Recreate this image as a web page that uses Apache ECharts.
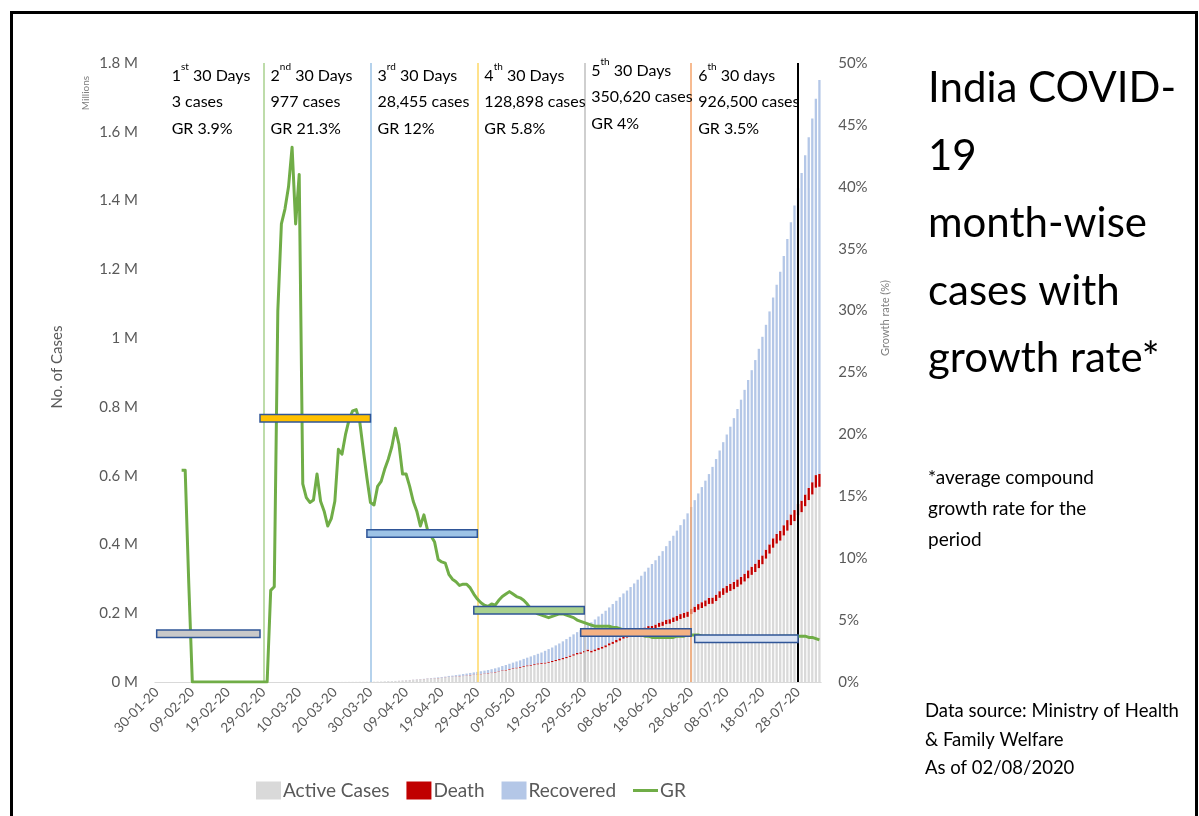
<!DOCTYPE html>
<html>
<head>
<meta charset="utf-8">
<title>India COVID-19 month-wise cases with growth rate</title>
<script src="https://cdn.jsdelivr.net/npm/echarts@6/dist/echarts.min.js"></script>
<style>
  html, body { margin: 0; padding: 0; background: #ffffff; }
  #chart { width: 1199px; height: 816px; }
</style>
</head>
<body>
<div id="chart"></div>
<script>
// Daily series, one entry per day starting 30-01-2020 (MoHFW cumulative figures)
const START_DATE = Date.UTC(2020, 0, 30);

const active = [
  0, 0, 1, 1, 1, 2, 3, 3, 3, 3,
  3, 3, 3, 3, 3, 3, 3, 3, 3, 3,
  3, 3, 0, 0, 0, 0, 0, 0, 0, 0,
  0, 0, 0, 0, 2, 3, 25, 27, 28, 31,
  36, 45, 60, 68, 76, 85, 90, 100, 111, 130,
  153, 179, 231, 307, 371, 466, 485, 604, 641, 797,
  885, 910, 1117, 1238, 1804, 2331, 2304, 2770, 3212, 4302,
  4751, 5277, 5961, 6651, 7415, 7912, 9065, 9804, 10419, 11244,
  11858, 12984, 14526, 14695, 15475, 16432, 17344, 18253, 19518, 20481,
  21377, 22569, 23546, 24641, 26027, 27489, 29370, 32142, 33523, 35937,
  37925, 39867, 41341, 44038, 46020, 47491, 49271, 51428, 52878, 53667,
  55845, 57991, 60874, 63293, 66109, 69290, 73115, 76794, 80292, 82030,
  85863, 89574, 86150, 89679, 93396, 97245, 101073, 106642, 110903, 115469,
  120400, 126191, 129247, 133731, 137448, 141842, 145779, 149348, 153106, 153178,
  155227, 160384, 163248, 168269, 169451, 174387, 178014, 183022, 186514, 189463,
  197387, 203051, 210120, 215125, 220114, 226947, 227439, 235433, 244814, 253287,
  259557, 264944, 269789, 276685, 283407, 292258, 301609, 311565, 319840, 331146,
  342473, 358692, 373379, 390459, 402529, 411133, 426167, 440135, 456071, 467882,
  485114, 493904, 511205, 529089, 545317, 565103, 567730
];

const death = [
  0, 0, 0, 0, 0, 0, 0, 0, 0, 0,
  0, 0, 0, 0, 0, 0, 0, 0, 0, 0,
  0, 0, 0, 0, 0, 0, 0, 0, 0, 0,
  0, 0, 0, 0, 0, 0, 0, 0, 0, 0,
  0, 0, 0, 0, 1, 2, 2, 2, 2, 3,
  3, 4, 5, 7, 9, 10, 11, 13, 20, 24,
  27, 29, 32, 35, 50, 56, 72, 83, 109, 124,
  149, 166, 199, 242, 273, 324, 353, 377, 414, 437,
  480, 507, 543, 592, 645, 681, 721, 779, 826, 886,
  937, 1008, 1079, 1154, 1223, 1323, 1373, 1568, 1694, 1783,
  1886, 1981, 2109, 2206, 2293, 2415, 2549, 2649, 2753, 2872,
  3029, 3163, 3303, 3435, 3583, 3720, 3867, 4021, 4167, 4337,
  4531, 4706, 4971, 5164, 5394, 5598, 5815, 6075, 6348, 6642,
  6929, 7200, 7466, 7745, 8102, 8498, 8884, 9195, 9520, 9900,
  11903, 12237, 12573, 12948, 13254, 13699, 14011, 14476, 14894, 15301,
  15685, 16095, 16475, 16893, 17400, 17834, 18213, 18655, 19268, 19693,
  20160, 20642, 21129, 21604, 22123, 22674, 23174, 23727, 24309, 24915,
  25602, 26273, 26816, 27497, 28084, 28732, 29861, 30601, 31358, 32063,
  32771, 33425, 34193, 34968, 35747, 36511, 37364
];

const recovered = [
  0, 0, 0, 0, 0, 0, 0, 0, 0, 0,
  0, 0, 0, 0, 0, 0, 0, 0, 0, 0,
  0, 0, 3, 3, 3, 3, 3, 3, 3, 3,
  3, 3, 3, 3, 3, 3, 3, 3, 3, 3,
  3, 3, 3, 3, 4, 4, 10, 10, 13, 13,
  15, 15, 20, 20, 23, 23, 40, 40, 66, 66,
  75, 85, 102, 124, 144, 156, 191, 229, 267, 352,
  411, 473, 565, 705, 758, 969, 1035, 1306, 1489, 1749,
  2014, 2231, 2546, 3252, 3960, 4257, 5012, 5498, 5939, 6523,
  7137, 7747, 8437, 9068, 10007, 10887, 11762, 12727, 14183, 15267,
  16540, 17847, 19358, 20917, 22455, 24386, 26235, 27920, 30153, 34109,
  36824, 39174, 42298, 45300, 48534, 51784, 54441, 57721, 60491, 64426,
  67692, 71106, 82370, 86984, 91819, 95527, 100303, 104107, 109462, 114073,
  119293, 124095, 129215, 134670, 141029, 147195, 154330, 162379, 169798, 180013,
  186935, 194325, 204711, 213831, 227756, 237196, 248190, 258685, 271697, 285637,
  295881, 309713, 321723, 334822, 347979, 359860, 379892, 394227, 409083, 424433,
  439948, 456831, 476378, 495513, 515386, 534621, 553471, 571460, 592032, 612815,
  635757, 653751, 677423, 700087, 724578, 753050, 782607, 817209, 849432, 885577,
  917568, 952744, 986271, 1019735, 1057806, 1094374, 1145629
];

// 7-day compound daily growth rate of total cases, in %
const growthRate = [
  null, null, null, null, null, null, null, 17.1, 17.1, 8,
  0, 0, 0, 0, 0, 0, 0, 0, 0, 0,
  0, 0, 0, 0, 0, 0, 0, 0, 0, 0,
  0, 0, 7.4, 7.7, 30, 37, 38.2, 40, 43.2, 37,
  41, 16, 14.9, 14.5, 14.7, 16.8, 14.6, 13.8, 12.6, 13.2,
  14.6, 18.8, 18.4, 20, 21.2, 21.9, 22, 21, 18.7, 16.5,
  14.5, 14.3, 15.8, 16.2, 17.2, 18, 19, 20.5, 19.2, 16.8,
  16.8, 15.8, 14.6, 13.8, 12.6, 13.5, 12.3, 11.8, 11.3, 9.9,
  9.7, 9.6, 8.7, 8.3, 8.1, 7.8, 7.9, 7.9, 7.6, 7.1,
  6.7, 6.4, 6.2, 6.1, 6.3, 6.2, 6.6, 6.9, 7.1, 7.3,
  7.1, 6.9, 6.8, 6.6, 6.3, 5.9, 5.7, 5.5, 5.4, 5.3,
  5.2, 5.3, 5.4, 5.5, 5.5, 5.4, 5.3, 5.2, 5.0, 4.9,
  4.8, 4.7, 4.6, 4.5, 4.5, 4.5, 4.5, 4.5, 4.4, 4.4,
  4.3, 4.2, 4.2, 4.1, 4.0, 3.9, 3.8, 3.7, 3.7, 3.6,
  3.6, 3.6, 3.6, 3.6, 3.6, 3.6, 3.7, 3.7, 3.7, 3.8,
  3.8, 3.8, 3.8, 3.7, 3.7, 3.7, 3.6, 3.6, 3.5, 3.5,
  3.5, 3.5, 3.5, 3.4, 3.4, 3.3, 3.3, 3.4, 3.4, 3.5,
  3.5, 3.5, 3.6, 3.6, 3.6, 3.7, 3.7, 3.7, 3.7, 3.7,
  3.7, 3.7, 3.7, 3.6, 3.6, 3.5, 3.4
];

// Six 30-day periods
const periodOrdinal = ['1', '2', '3', '4', '5', '6'];
const periodSuffix = ['st', 'nd', 'rd', 'th', 'th', 'th'];
const periodWord = ['Days', 'Days', 'Days', 'Days', 'Days', 'days'];
const periodCases = ['3 cases', '977 cases', '28,455 cases', '128,898 cases', '350,620 cases', '926,500 cases'];
const periodGR = [3.9, 21.3, 12, 5.8, 4, 3.5];
const periodBarStart = ['30-01-20', '28-02-20', '29-03-20', '28-04-20', '28-05-20', '29-06-20'];
const periodBarEnd = ['28-02-20', '30-03-20', '29-04-20', '29-05-20', '28-06-20', '28-07-20'];
const periodBarFill = ['#c9c9c9', '#ffc000', '#9dc3e6', '#a9d18e', '#f4b183', '#dae3f3'];

// Period boundary markers
const boundaryDates = ['29-02-20', '30-03-20', '29-04-20', '29-05-20', '28-06-20', '28-07-20'];
const boundaryColors = ['#a9d18e', '#9dc3e6', '#ffd966', '#bfbfbf', '#f4a46c', '#000000'];

const titleLines = ['India COVID-', '19', 'month-wise', 'cases with', 'growth rate*'];
const noteLines = ['*average compound', 'growth rate for the', 'period'];
const sourceLines = ['Data source: Ministry of Health', '& Family Welfare', 'As of 02/08/2020'];

function fmtDate(ms) {
  const d = new Date(ms);
  const dd = String(d.getUTCDate()).padStart(2, '0');
  const mm = String(d.getUTCMonth() + 1).padStart(2, '0');
  const yy = String(d.getUTCFullYear()).slice(2);
  return dd + '-' + mm + '-' + yy;
}
const dates = active.map((_, i) => fmtDate(START_DATE + i * 86400000));

const FONT = 'Lato, "Liberation Sans", sans-serif';
const GREY = '#595959';
const BAND_H = 0.3;

const chart = echarts.init(document.getElementById('chart'), null, { renderer: 'canvas' });

const option = {
  animation: false,
  backgroundColor: '#ffffff',
  textStyle: { fontFamily: FONT },
  grid: { left: 154.9, top: 63, width: 666.3, height: 619, containLabel: false },
  legend: {
    left: 251,
    top: 776,
    itemWidth: 25,
    itemHeight: 18,
    itemGap: 17,
    selectedMode: false,
    textStyle: { color: GREY, fontSize: 19, fontFamily: FONT, padding: [0, 0, 0, -3] },
    data: [
      { name: 'Active Cases', icon: 'rect' },
      { name: 'Death', icon: 'rect' },
      { name: 'Recovered', icon: 'rect' },
      { name: 'GR', icon: 'path://M0,0 L25,0 L25,3 L0,3 Z' }
    ]
  },
  xAxis: {
    type: 'category',
    data: dates,
    boundaryGap: true,
    axisLine: { lineStyle: { color: '#d9d9d9', width: 1 } },
    axisTick: { alignWithLabel: true, interval: 9, length: 5, lineStyle: { color: '#d0d0d0' } },
    axisLabel: { interval: 9, rotate: 45, color: GREY, fontSize: 13.5, margin: 8, fontFamily: FONT },
    splitLine: { show: false }
  },
  yAxis: [
    {
      type: 'value',
      min: 0,
      max: 1800000,
      interval: 200000,
      splitLine: { show: false },
      axisLine: { show: false },
      axisTick: { show: false },
      axisLabel: {
        color: GREY,
        fontSize: 15,
        margin: 17,
        fontFamily: FONT,
        formatter: v => (v / 1e6) + ' M'
      }
    },
    {
      type: 'value',
      position: 'right',
      min: 0,
      max: 50,
      interval: 5,
      splitLine: { show: false },
      axisLine: { show: false },
      axisTick: { show: false },
      axisLabel: { color: GREY, fontSize: 15, margin: 17, fontFamily: FONT, formatter: '{value}%' }
    }
  ],
  series: [
    {
      name: 'Active Cases',
      type: 'bar',
      stack: 'cases',
      data: active,
      barCategoryGap: '35%',
      itemStyle: { color: '#d9d9d9' }
    },
    {
      name: 'Death',
      type: 'bar',
      stack: 'cases',
      data: death,
      itemStyle: { color: '#c00000' }
    },
    {
      name: 'Recovered',
      type: 'bar',
      stack: 'cases',
      data: recovered,
      itemStyle: { color: '#b4c7e7' }
    },
    {
      name: 'GR',
      type: 'line',
      yAxisIndex: 1,
      data: growthRate,
      symbol: 'none',
      showSymbol: false,
      z: 6,
      lineStyle: { color: '#70ad47', width: 3, join: 'round' },
      itemStyle: { color: '#70ad47' },
      markLine: {
        silent: true,
        symbol: ['none', 'none'],
        label: { show: false },
        z: 5,
        data: boundaryDates.map((d, k) => ({
          xAxis: d,
          lineStyle: {
            color: boundaryColors[k],
            width: k === boundaryDates.length - 1 ? 2 : 1.5,
            type: 'solid'
          }
        }))
      },
      markArea: {
        silent: true,
        z: 7,
        data: periodGR.map((g, k) => [
          {
            xAxis: periodBarStart[k],
            yAxis: g - BAND_H,
            itemStyle: { color: periodBarFill[k], borderColor: '#2f5597', borderWidth: 1.5, opacity: 1 }
          },
          { xAxis: periodBarEnd[k], yAxis: g + BAND_H }
        ])
      }
    }
  ]
};

chart.setOption(option);

// Annotations placed from axis positions
const xPix = d => chart.convertToPixel({ xAxisIndex: 0 }, d);
const graphics = [];

periodOrdinal.forEach((n, k) => {
  const x = k === 0 ? xPix(dates[0]) + 15 : xPix(boundaryDates[k - 1]) + 7;
  const top = k === 4 ? 57 : 62;
  graphics.push({
    type: 'text',
    left: x,
    top: top,
    z: 20,
    style: {
      text: '{t|' + n + '}{s|' + periodSuffix[k] + '}{t| 30 ' + periodWord[k] + '}\n{t|' +
            periodCases[k] + '}\n{t|GR ' + periodGR[k] + '%}',
      rich: {
        t: { fontSize: 16, lineHeight: 26.7, fill: '#000000', fontFamily: FONT },
        s: { fontSize: 10, verticalAlign: 'top', fill: '#000000', fontFamily: FONT }
      }
    }
  });
});

graphics.push(
  {
    type: 'text', left: 928, top: 55, z: 20,
    style: { text: titleLines.join('\n'), fontSize: 42, lineHeight: 67.5, fill: '#000000', fontFamily: FONT }
  },
  {
    type: 'text', left: 928, top: 462, z: 20,
    style: { text: noteLines.join('\n'), fontSize: 19, lineHeight: 31, fill: '#000000', fontFamily: FONT }
  },
  {
    type: 'text', left: 925, top: 697, z: 20,
    style: { text: sourceLines.join('\n'), fontSize: 18.5, lineHeight: 28.5, fill: '#000000', fontFamily: FONT }
  },
  {
    type: 'text', x: 57, y: 367, rotation: Math.PI / 2, z: 20,
    style: { text: 'No. of Cases', fontSize: 15, fill: GREY, fontFamily: FONT, align: 'center', verticalAlign: 'middle' }
  },
  {
    type: 'text', x: 86, y: 93, rotation: Math.PI / 2, z: 20,
    style: { text: 'Millions', fontSize: 10, fill: '#7f7f7f', fontFamily: FONT, align: 'center', verticalAlign: 'middle' }
  },
  {
    type: 'text', x: 885, y: 318, rotation: Math.PI / 2, z: 20,
    style: { text: 'Growth rate (%)', fontSize: 11, fill: '#7f7f7f', fontFamily: FONT, align: 'center', verticalAlign: 'middle' }
  },
  {
    type: 'rect', z: 30, silent: true,
    shape: { x: 11.5, y: 12.5, width: 1185, height: 900 },
    style: { fill: 'none', stroke: '#000000', lineWidth: 3 }
  }
);

chart.setOption({ graphic: graphics });
</script>
</body>
</html>
